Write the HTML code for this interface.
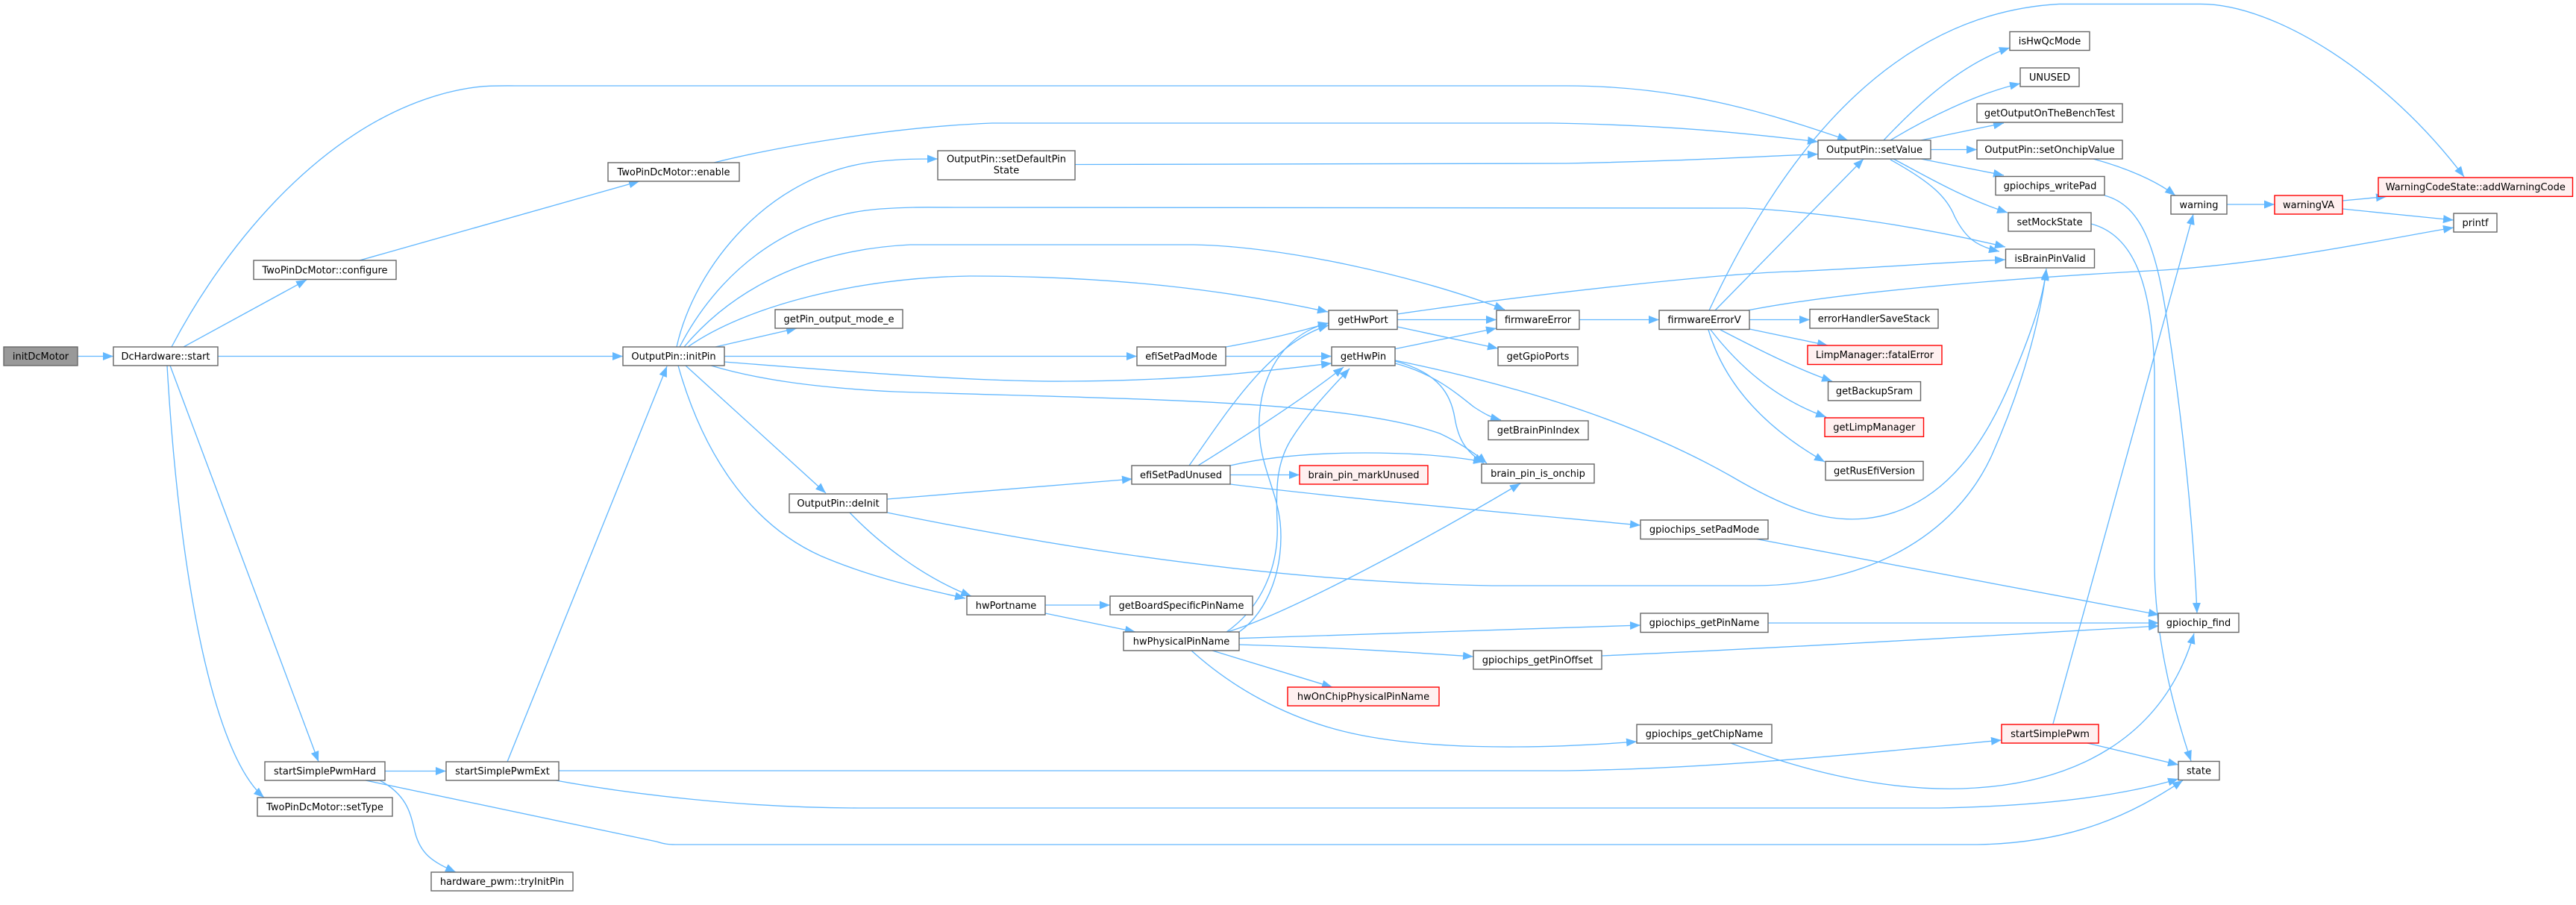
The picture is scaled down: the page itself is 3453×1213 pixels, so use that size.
<!DOCTYPE html>
<html>
<head>
<meta charset="utf-8">
<style>
html,body{margin:0;padding:0;background:#fff;}
svg{display:block;}
text{font-family:"DejaVu Sans","Liberation Sans",sans-serif;font-size:13px;fill:#000;text-anchor:middle;}
.e{fill:none;stroke:#63b8ff;stroke-width:1.35;}
.n{fill:#fff;stroke:#666;stroke-width:1.4;}
.r{fill:#fff0f0;stroke:#ff0000;stroke-width:1.4;}
.g{fill:#999;stroke:#666;stroke-width:1.4;}
</style>
</head>
<body>
<svg width="3453" height="1213" viewBox="0 0 3453 1213" xmlns="http://www.w3.org/2000/svg">
<defs>
<marker id="a" markerUnits="userSpaceOnUse" markerWidth="15" markerHeight="11" refX="14" refY="5.5" orient="auto">
<path d="M0,0 L14,5.5 L0,11 z" fill="#63b8ff"/>
</marker>
</defs>
<rect width="3453" height="1213" fill="#fff"/>
<g class="edges" marker-end="url(#a)">
<!-- initDcMotor -> start -->
<path class="e" marker-end="url(#a)" d="M104,477.5 L152,477.5"/>
<!-- start -> configure -->
<path class="e" marker-end="url(#a)" d="M246,465 L411,375"/>
<!-- start -> setValue -->
<path class="e" marker-end="url(#a)" d="M230,465 C290,350 420,170 600,124 C640,114 660,115 690,115 L2100,115 C2260,115 2380,155 2477,188"/>
<!-- start -> initPin -->
<path class="e" marker-end="url(#a)" d="M292,477.5 L835,477.5"/>
<!-- start -> startSimplePwmHard -->
<path class="e" marker-end="url(#a)" d="M228,490 L427,1021"/>
<!-- start -> setType -->
<path class="e" marker-end="url(#a)" d="M224,490 C240,770 285,1010 354,1069"/>
<!-- configure -> enable -->
<path class="e" marker-end="url(#a)" d="M482,349 L857,243"/>
<!-- enable -> setValue -->
<path class="e" marker-end="url(#a)" d="M957,218 C1050,195 1200,170 1330,165 L2080,165 C2250,168 2350,180 2437,190"/>
<!-- initPin -> setDefaultPinState -->
<path class="e" marker-end="url(#a)" d="M907,465 C930,360 1030,230 1180,216 C1210,213 1230,213 1257,213"/>
<!-- initPin -> isBrainPinValid -->
<path class="e" marker-end="url(#a)" d="M911,465 C960,370 1050,290 1180,280 C1220,277 1250,278 1280,278 L2340,279 C2450,285 2580,305 2688,331"/>
<!-- initPin -> firmwareError -->
<path class="e" marker-end="url(#a)" d="M917,465 C980,390 1080,335 1220,328 L1600,328 C1720,330 1900,370 2017,415"/>
<!-- initPin -> getHwPort -->
<path class="e" marker-end="url(#a)" d="M922,465 C1000,410 1150,372 1300,370 C1500,370 1650,390 1780,418"/>
<!-- initPin -> getPin_output_mode_e -->
<path class="e" marker-end="url(#a)" d="M959,465 L1068,440"/>
<!-- initPin -> efiSetPadMode -->
<path class="e" marker-end="url(#a)" d="M971,477.5 L1524,477.5"/>
<!-- initPin -> getHwPin -->
<path class="e" marker-end="url(#a)" d="M970,485 C1100,495 1300,512 1430,511 C1600,510 1700,497 1785,487"/>
<!-- initPin -> brain_pin_is_onchip -->
<path class="e" marker-end="url(#a)" d="M953,490 C1020,510 1100,520 1200,525 C1500,535 1800,535 1930,581 C1960,595 1980,610 1993,621"/>
<!-- initPin -> hwPortname -->
<path class="e" marker-end="url(#a)" d="M909,490 C940,600 1000,700 1100,745 C1170,775 1240,790 1294,802"/>
<!-- initPin -> deInit -->
<path class="e" marker-end="url(#a)" d="M919,490 L1107,661"/>
<!-- startSimplePwmHard -> startSimplePwmExt -->
<path class="e" marker-end="url(#a)" d="M516,1033.5 L598,1033.5"/>
<!-- startSimplePwmHard -> tryInitPin -->
<path class="e" marker-end="url(#a)" d="M509,1046 C545,1065 550,1090 555,1110 C562,1145 580,1155 611,1169"/>
<!-- startSimplePwmHard -> state -->
<path class="e" marker-end="url(#a)" d="M490,1046 L880,1128 C890,1131 895,1132 905,1132 L2650,1132 C2780,1130 2860,1090 2926,1046"/>
<!-- startSimplePwmExt -> initPin -->
<path class="e" marker-end="url(#a)" d="M680,1021 L894,491"/>
<!-- startSimplePwmExt -> startSimplePwm -->
<path class="e" marker-end="url(#a)" d="M749,1033 L2100,1033 C2300,1030 2500,1010 2683,992"/>
<!-- startSimplePwmExt -> state -->
<path class="e" marker-end="url(#a)" d="M745,1046 C850,1065 1000,1083 1150,1083 L2600,1083 C2750,1080 2850,1065 2920,1044"/>
<!-- setDefaultPinState -> setValue -->
<path class="e" marker-end="url(#a)" d="M1441,220.5 L2100,219 C2250,216 2350,210 2437,206.6"/>
<!-- efiSetPadMode -> getHwPort -->
<path class="e" marker-end="url(#a)" d="M1643,465 C1700,455 1740,445 1781,433"/>
<!-- efiSetPadMode -> getHwPin -->
<path class="e" marker-end="url(#a)" d="M1643,477.5 L1785,477.5"/>
<!-- deInit -> efiSetPadUnused -->
<path class="e" marker-end="url(#a)" d="M1189,669 L1518,642"/>
<!-- deInit -> hwPortname -->
<path class="e" marker-end="url(#a)" d="M1139,687 C1180,730 1240,775 1302,799"/>
<!-- deInit -> isBrainPinValid -->
<path class="e" marker-end="url(#a)" d="M1189,687 C1400,730 1700,780 2000,785 L2350,785 C2500,785 2620,720 2670,610 C2710,520 2735,430 2743,360"/>
<!-- hwPortname -> getBoardSpecificPinName -->
<path class="e" marker-end="url(#a)" d="M1401,811 L1488,811"/>
<!-- hwPortname -> hwPhysicalPinName -->
<path class="e" marker-end="url(#a)" d="M1401,822 L1522,847"/>
<!-- efiSetPadUnused -> brain_pin_markUnused -->
<path class="e" marker-end="url(#a)" d="M1649,636.5 L1742,636.5"/>
<!-- efiSetPadUnused -> brain_pin_is_onchip -->
<path class="e" marker-end="url(#a)" d="M1649,624 C1700,612 1760,607 1830,607 C1900,607 1950,612 1989,619"/>
<!-- efiSetPadUnused -> gpiochips_setPadMode -->
<path class="e" marker-end="url(#a)" d="M1649,649 C1800,668 2050,690 2199,704"/>
<!-- efiSetPadUnused -> getHwPort -->
<path class="e" marker-end="url(#a)" d="M1594,624 C1640,560 1700,460 1781,436"/>
<!-- efiSetPadUnused -> getHwPin -->
<path class="e" marker-end="url(#a)" d="M1606,624 C1660,590 1740,540 1801,492"/>
<!-- hwPhysicalPinName -> getHwPort -->
<path class="e" marker-end="url(#a)" d="M1661,847 C1700,820 1722,760 1716,700 C1710,650 1685,620 1688,560 C1692,490 1730,445 1781,433"/>
<!-- hwPhysicalPinName -> getHwPin -->
<path class="e" marker-end="url(#a)" d="M1644,847 C1690,815 1715,760 1712,700 C1710,650 1712,620 1730,590 C1755,550 1785,520 1809,494"/>
<!-- hwPhysicalPinName -> brain_pin_is_onchip -->
<path class="e" marker-end="url(#a)" d="M1645,847 C1720,825 1900,730 2038,648"/>
<!-- hwPhysicalPinName -> gpiochips_getPinName -->
<path class="e" marker-end="url(#a)" d="M1661,855.6 L2199,838"/>
<!-- hwPhysicalPinName -> gpiochips_getPinOffset -->
<path class="e" marker-end="url(#a)" d="M1661,864 C1800,868 1900,875 1975,880"/>
<!-- hwPhysicalPinName -> hwOnChipPhysicalPinName -->
<path class="e" marker-end="url(#a)" d="M1625,872 L1786,921"/>
<!-- hwPhysicalPinName -> gpiochips_getChipName -->
<path class="e" marker-end="url(#a)" d="M1597,872 C1650,920 1720,960 1800,980 C1900,1005 2050,1005 2194,994"/>
<!-- getHwPin -> isBrainPinValid -->
<path class="e" marker-end="url(#a)" d="M1870,483 C2050,520 2200,570 2320,638 C2400,685 2450,700 2500,695 C2600,685 2660,600 2700,500 C2725,440 2738,400 2743,362"/>
<!-- getHwPort -> firmwareError -->
<path class="e" marker-end="url(#a)" d="M1873,428.5 L2006,428.5"/>
<!-- getHwPort -> getGpioPorts -->
<path class="e" marker-end="url(#a)" d="M1873,438 L2008,467"/>
<!-- getHwPort -> isBrainPinValid -->
<path class="e" marker-end="url(#a)" d="M1873,421 C2050,395 2300,367 2400,364 C2500,360 2600,352 2688,348"/>
<!-- getHwPin -> firmwareError -->
<path class="e" marker-end="url(#a)" d="M1870,467.6 L2006,440"/>
<!-- getHwPin -> getBrainPinIndex -->
<path class="e" marker-end="url(#a)" d="M1870,487 C1920,500 1950,525 1975,545 C1990,555 2000,560 2012,563"/>
<!-- getHwPin -> brain_pin_is_onchip -->
<path class="e" marker-end="url(#a)" d="M1870,484 C1930,500 1945,530 1950,560 C1955,590 1965,605 1989,621"/>
<!-- firmwareError -> firmwareErrorV -->
<path class="e" marker-end="url(#a)" d="M2117,428.5 L2224,428.5"/>
<!-- firmwareErrorV -> addWarningCode -->
<path class="e" marker-end="url(#a)" d="M2291,416 C2360,270 2500,20 2760,5.4 L2950,5.4 C3050,5.4 3200,100 3303,237"/>
<!-- firmwareErrorV -> setValue -->
<path class="e" marker-end="url(#a)" d="M2299,416 L2498,213"/>
<!-- firmwareErrorV -> printf -->
<path class="e" marker-end="url(#a)" d="M2343,416 C2450,395 2650,375 2900,362 C3050,352 3200,320 3289,305"/>
<!-- firmwareErrorV -> errorHandlerSaveStack -->
<path class="e" marker-end="url(#a)" d="M2345,428.5 L2426,428.5"/>
<!-- firmwareErrorV -> fatalError -->
<path class="e" marker-end="url(#a)" d="M2345,441 L2450,463"/>
<!-- firmwareErrorV -> getBackupSram -->
<path class="e" marker-end="url(#a)" d="M2306,442 C2360,470 2410,495 2456,511"/>
<!-- firmwareErrorV -> getLimpManager -->
<path class="e" marker-end="url(#a)" d="M2293,442 C2330,490 2380,535 2448,559"/>
<!-- firmwareErrorV -> getRusEfiVersion -->
<path class="e" marker-end="url(#a)" d="M2290,442 C2310,510 2360,570 2446,619"/>
<!-- setValue -> isHwQcMode -->
<path class="e" marker-end="url(#a)" d="M2525,188 C2570,140 2630,85 2694,64"/>
<!-- setValue -> UNUSED -->
<path class="e" marker-end="url(#a)" d="M2534,188 C2580,160 2650,125 2708,112"/>
<!-- setValue -> getOutputOnTheBenchTest -->
<path class="e" marker-end="url(#a)" d="M2575,188 L2686,165"/>
<!-- setValue -> setOnchipValue -->
<path class="e" marker-end="url(#a)" d="M2588,200.5 L2650,200.5"/>
<!-- setValue -> gpiochips_writePad -->
<path class="e" marker-end="url(#a)" d="M2575,213 L2686,235"/>
<!-- setValue -> setMockState -->
<path class="e" marker-end="url(#a)" d="M2538,213 C2580,235 2630,265 2691,285"/>
<!-- setValue -> isBrainPinValid -->
<path class="e" marker-end="url(#a)" d="M2534,214 C2590,245 2610,265 2620,290 C2635,320 2650,330 2680,337"/>
<!-- setOnchipValue -> warning -->
<path class="e" marker-end="url(#a)" d="M2806,213 C2850,225 2890,242 2916,262"/>
<!-- gpiochips_writePad -> gpiochip_find -->
<path class="e" marker-end="url(#a)" d="M2821,262 C2870,275 2890,330 2905,430 C2925,560 2940,700 2945,822"/>
<!-- setMockState -> state -->
<path class="e" marker-end="url(#a)" d="M2803,300 C2860,315 2885,380 2888,500 L2888,760 C2889,850 2910,940 2937,1020"/>
<!-- startSimplePwm -> warning -->
<path class="e" marker-end="url(#a)" d="M2752,970 C2780,870 2860,580 2940,287"/>
<!-- startSimplePwm -> state -->
<path class="e" marker-end="url(#a)" d="M2798,996 L2920,1025"/>
<!-- warning -> warningVA -->
<path class="e" marker-end="url(#a)" d="M2985,274 L3049,274"/>
<!-- warningVA -> addWarningCode -->
<path class="e" marker-end="url(#a)" d="M3140,269 L3199,263.5"/>
<!-- warningVA -> printf -->
<path class="e" marker-end="url(#a)" d="M3140,280 L3289,295"/>
<!-- gpiochips_setPadMode -> gpiochip_find -->
<path class="e" marker-end="url(#a)" d="M2352,722 L2894,824"/>
<!-- gpiochips_getPinName -> gpiochip_find -->
<path class="e" marker-end="url(#a)" d="M2370,835 L2894,835"/>
<!-- gpiochips_getPinOffset -> gpiochip_find -->
<path class="e" marker-end="url(#a)" d="M2147,879 C2400,868 2700,850 2894,839"/>
<!-- gpiochips_getChipName -> gpiochip_find -->
<path class="e" marker-end="url(#a)" d="M2320,996 C2420,1035 2530,1060 2630,1057 C2780,1052 2900,990 2941,849"/>
</g>

<g class="nodes">
<rect class="g" x="5" y="465" width="99" height="25"/><text x="54.5" y="482">initDcMotor</text>
<rect class="n" x="152" y="465" width="140" height="25"/><text x="222" y="482">DcHardware::start</text>
<rect class="n" x="340" y="349" width="191" height="25.5"/><text x="435.5" y="366.5">TwoPinDcMotor::configure</text>
<rect class="n" x="815" y="218" width="176" height="25"/><text x="903" y="235">TwoPinDcMotor::enable</text>
<rect class="n" x="835" y="465" width="136" height="25"/><text x="903" y="482">OutputPin::initPin</text>
<rect class="n" x="355" y="1021" width="161" height="25"/><text x="435.5" y="1038">startSimplePwmHard</text>
<rect class="n" x="345" y="1069" width="181" height="25"/><text x="435.5" y="1086">TwoPinDcMotor::setType</text>
<rect class="n" x="598" y="1021" width="151" height="25"/><text x="673.5" y="1038">startSimplePwmExt</text>
<rect class="n" x="578" y="1169" width="190" height="25"/><text x="673" y="1186">hardware_pwm::tryInitPin</text>
<rect class="n" x="1257" y="202" width="184" height="39"/><text x="1349" y="217.5">OutputPin::setDefaultPin</text><text x="1349" y="232.5">State</text>
<rect class="n" x="1039" y="415" width="171" height="25"/><text x="1124.5" y="432">getPin_output_mode_e</text>
<rect class="n" x="1524" y="465" width="119" height="25"/><text x="1583.5" y="482">efiSetPadMode</text>
<rect class="n" x="1058" y="662" width="131" height="25"/><text x="1123.5" y="679">OutputPin::deInit</text>
<rect class="n" x="1517" y="624" width="132" height="25"/><text x="1583" y="641">efiSetPadUnused</text>
<rect class="n" x="1296" y="799" width="105" height="25"/><text x="1348.5" y="816">hwPortname</text>
<rect class="n" x="1488" y="799" width="191" height="25"/><text x="1583.5" y="816">getBoardSpecificPinName</text>
<rect class="n" x="1506" y="847" width="155" height="25"/><text x="1583.5" y="864">hwPhysicalPinName</text>
<rect class="r" x="1742" y="624" width="172" height="25"/><text x="1828" y="641">brain_pin_markUnused</text>
<rect class="r" x="1726" y="921" width="203" height="25"/><text x="1827.5" y="938">hwOnChipPhysicalPinName</text>
<rect class="n" x="1781" y="416" width="92" height="25.5"/><text x="1827" y="433">getHwPort</text>
<rect class="n" x="1785" y="465" width="85" height="25"/><text x="1827.5" y="482">getHwPin</text>
<rect class="n" x="2006" y="416" width="111" height="25.5"/><text x="2061.5" y="433">firmwareError</text>
<rect class="n" x="2008" y="465" width="107" height="25"/><text x="2061.5" y="482">getGpioPorts</text>
<rect class="n" x="2224" y="416" width="121" height="25.5"/><text x="2284.5" y="433">firmwareErrorV</text>
<rect class="n" x="1995" y="564" width="134" height="25.5"/><text x="2062" y="581">getBrainPinIndex</text>
<rect class="n" x="1986" y="622" width="151" height="25.5"/><text x="2061.5" y="639">brain_pin_is_onchip</text>
<rect class="n" x="2199" y="697" width="171" height="25.5"/><text x="2284.5" y="714">gpiochips_setPadMode</text>
<rect class="n" x="2199" y="822" width="171" height="25.5"/><text x="2284.5" y="839">gpiochips_getPinName</text>
<rect class="n" x="1975" y="872" width="172" height="25"/><text x="2061" y="889">gpiochips_getPinOffset</text>
<rect class="n" x="2194" y="971" width="181" height="25"/><text x="2284.5" y="988">gpiochips_getChipName</text>
<rect class="n" x="2437" y="188" width="151" height="25"/><text x="2512.5" y="205">OutputPin::setValue</text>
<rect class="n" x="2694" y="42.5" width="107" height="25"/><text x="2747.5" y="59.5">isHwQcMode</text>
<rect class="n" x="2708" y="91" width="79" height="25"/><text x="2747.5" y="108">UNUSED</text>
<rect class="n" x="2650" y="139" width="195" height="25"/><text x="2747.5" y="156">getOutputOnTheBenchTest</text>
<rect class="n" x="2650" y="188" width="195" height="25"/><text x="2747.5" y="205">OutputPin::setOnchipValue</text>
<rect class="n" x="2675" y="236.5" width="146" height="25"/><text x="2748" y="253.5">gpiochips_writePad</text>
<rect class="n" x="2692" y="285" width="111" height="25"/><text x="2747.5" y="302">setMockState</text>
<rect class="n" x="2688.5" y="334" width="119" height="25"/><text x="2748" y="351">isBrainPinValid</text>
<rect class="n" x="2426" y="414.5" width="172" height="25.5"/><text x="2512" y="431.5">errorHandlerSaveStack</text>
<rect class="r" x="2423" y="463" width="180" height="25.5"/><text x="2513" y="480">LimpManager::fatalError</text>
<rect class="n" x="2450.5" y="511.6" width="124" height="25.3"/><text x="2512.5" y="528.6">getBackupSram</text>
<rect class="r" x="2446" y="560" width="132.5" height="25.3"/><text x="2512.3" y="577">getLimpManager</text>
<rect class="n" x="2447" y="618.4" width="131" height="25.2"/><text x="2512.5" y="635.4">getRusEfiVersion</text>
<rect class="r" x="2683" y="971" width="130" height="25"/><text x="2748" y="988">startSimplePwm</text>
<rect class="n" x="2910" y="262" width="75" height="25"/><text x="2947.5" y="279">warning</text>
<rect class="r" x="3049" y="262" width="91" height="25"/><text x="3094.5" y="279">warningVA</text>
<rect class="r" x="3188" y="238" width="260.5" height="25.3"/><text x="3318.3" y="255">WarningCodeState::addWarningCode</text>
<rect class="n" x="3289" y="286" width="58" height="25"/><text x="3318" y="303">printf</text>
<rect class="n" x="2893" y="822" width="108" height="25.5"/><text x="2947" y="839">gpiochip_find</text>
<rect class="n" x="2920" y="1020.5" width="55" height="25"/><text x="2947.5" y="1037.5">state</text>
</g>
</svg>
</body>
</html>
